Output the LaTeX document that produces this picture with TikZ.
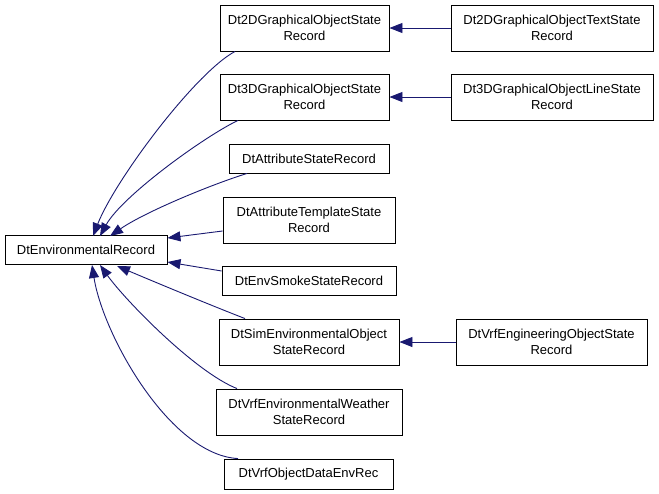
\documentclass[tikz,border=0pt]{standalone}
\usepackage{fontspec}
\setmainfont{Liberation Sans}
\usetikzlibrary{arrows.meta}
\definecolor{edgeblue}{HTML}{191970}
\begin{document}
\begin{tikzpicture}[x=1pt,y=-1pt,
  box/.style={draw=black,line width=0.9pt,fill=white,inner sep=0pt,align=center,
    font=\fontsize{13}{16}\selectfont},
  inh/.style={draw=edgeblue,line width=0.9pt,-{Triangle[length=13pt,width=10pt]}}]
\useasboundingbox (0,0) rectangle (659,493);
\node[box,minimum width=162pt,minimum height=29pt] (root) at (86,250) {DtEnvironmentalRecord};
\node[box,minimum width=169pt,minimum height=46pt] (n2d) at (304.5,28) {Dt2DGraphicalObjectState\\Record};
\node[box,minimum width=202pt,minimum height=46pt] (n2dt) at (552,28) {Dt2DGraphicalObjectTextState\\Record};
\node[box,minimum width=169pt,minimum height=46pt] (n3d) at (304.5,97) {Dt3DGraphicalObjectState\\Record};
\node[box,minimum width=202pt,minimum height=46pt] (n3dl) at (552,97) {Dt3DGraphicalObjectLineState\\Record};
\node[box,minimum width=160pt,minimum height=29pt] (attr) at (309,158.5) {DtAttributeStateRecord};
\node[box,minimum width=172pt,minimum height=46pt] (attrt) at (309,220) {DtAttributeTemplateState\\Record};
\node[box,minimum width=174pt,minimum height=29pt] (smoke) at (309,280.5) {DtEnvSmokeStateRecord};
\node[box,minimum width=180pt,minimum height=46pt] (sim) at (309,342) {DtSimEnvironmentalObject\\StateRecord};
\node[box,minimum width=191pt,minimum height=46pt] (eng) at (551.5,342) {DtVrfEngineeringObjectState\\Record};
\node[box,minimum width=186pt,minimum height=46pt] (weather) at (309,412) {DtVrfEnvironmentalWeather\\StateRecord};
\node[box,minimum width=169pt,minimum height=30pt] (objdata) at (308.5,474) {DtVrfObjectDataEnvRec};
% horizontal edges
\draw[inh] (n2dt.west) -- (n2d.east);
\draw[inh] (n3dl.west) -- (n3d.east);
\draw[inh] (eng.west) -- (sim.east);
% edges to root
\coordinate (t2d) at (93,236);
\coordinate (t3d) at (100,236);
\coordinate (tat) at (110,236);
\coordinate (tsim) at (117,266);
\coordinate (twe) at (100,265);
\coordinate (tob) at (92,265);
\draw[inh] ([xshift=-69.5pt]n2d.south) .. controls (195,73) and (115,180) .. (t2d);
\draw[inh] ([xshift=-66.5pt]n3d.south) .. controls (205,136) and (122,196) .. (t3d);
\draw[inh] ([xshift=-62pt]attr.south) .. controls (210,185) and (145,212) .. (tat);
\draw[inh] (attrt.west |- 0,231) -- (root.east |- 0,238);
\draw[inh] (smoke.west |- 0,271) -- (root.east |- 0,262);
\draw[inh] ([xshift=-64pt]sim.north) .. controls (210,305) and (150,280) .. (tsim);
\draw[inh] ([xshift=-72pt]weather.north) .. controls (195,372) and (125,300) .. (twe);
\draw[inh] ([xshift=-70.5pt]objdata.north) .. controls (170,455) and (103,335) .. (tob);
\end{tikzpicture}
\end{document}
